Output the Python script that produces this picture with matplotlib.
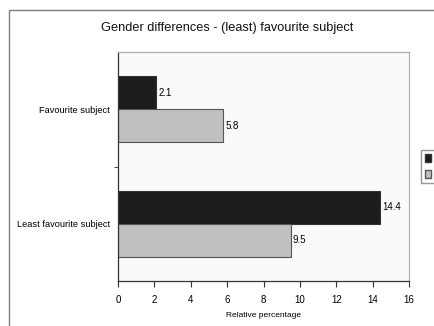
import matplotlib
matplotlib.use("Agg")
import matplotlib.pyplot as plt
from matplotlib.patches import Rectangle, Patch
import numpy as np

plt.rcParams['font.family'] = ['Liberation Sans', 'DejaVu Sans']

categories = ["Least favourite subject", "Favourite subject"]
series_names = ["Boys", "Girls"]
boys = [14.4, 2.1]
girls = [9.5, 5.8]
x_ticks = [0, 2, 4, 6, 8, 10, 12, 14, 16]

W, H = 435, 326
fig = plt.figure(figsize=(W / 100, H / 100), dpi=100)
fig.patch.set_facecolor("white")

# outer chart frame (runs off the right and bottom edges)
fig.patches.append(Rectangle((9.5 / W, -0.1), 1.2, 1 - 10 / H + 0.1,
                             transform=fig.transFigure, fill=False,
                             edgecolor="#7f7f7f", linewidth=1.0))

ax = fig.add_axes([118 / W, 1 - 281 / H, (409 - 118) / W, (281 - 52) / H])
ax.set_facecolor("#fafafa")

y = np.arange(len(categories))
h = 0.288
b1 = ax.barh(y + h / 2, boys, height=h, color="#1c1c1c", edgecolor="#333333", linewidth=0.8)
b2 = ax.barh(y - h / 2, girls, height=h, color="#c0c0c0", edgecolor="#555555", linewidth=0.8)

for bars, vals in ((b1, boys), (b2, girls)):
    for bar, v in zip(bars, vals):
        ax.text(v + 0.12, bar.get_y() + bar.get_height() / 2, f"{v}",
                va="center", ha="left", fontsize=7, color="black")

ax.set_xlim(0, 16)
ax.set_ylim(-0.5, len(categories) - 0.5)
ax.set_xticks(x_ticks)
ax.set_xticklabels([str(t) for t in x_ticks], fontsize=7)
ax.set_yticks(y)
ax.set_yticklabels(categories, fontsize=6.7)
ax.set_yticks([0.5], minor=True)
ax.tick_params(axis="y", which="major", length=0, pad=6)
ax.tick_params(axis="y", which="minor", length=3, direction="out", color="#333333")
ax.tick_params(axis="x", length=4, direction="out", pad=6, color="#333333")
ax.set_xlabel("Relative percentage", fontsize=6, labelpad=5)

for side in ("left", "bottom"):
    ax.spines[side].set_color("#333333")
    ax.spines[side].set_linewidth(0.9)
for side in ("right", "top"):
    ax.spines[side].set_color("#b0b0b0")
    ax.spines[side].set_linewidth(0.9)

fig.text(0.5 * (103 + 352) / W, 1 - 28 / H, "Gender differences - (least) favourite subject",
         ha="center", va="center", fontsize=9.2, color="#111111")

handles = [Patch(facecolor="#1c1c1c", edgecolor="#333333"),
           Patch(facecolor="#c0c0c0", edgecolor="#555555")]
fig.legend(handles, series_names, loc="upper left",
           bbox_to_anchor=(421.5 / W, 1 - 150 / H), fontsize=7,
           frameon=True, fancybox=False, edgecolor="#7f7f7f",
           handlelength=0.6, handleheight=0.9, handletextpad=0.4,
           borderpad=0.35, labelspacing=0.6, borderaxespad=0)

fig.savefig("out.png", dpi=100)
